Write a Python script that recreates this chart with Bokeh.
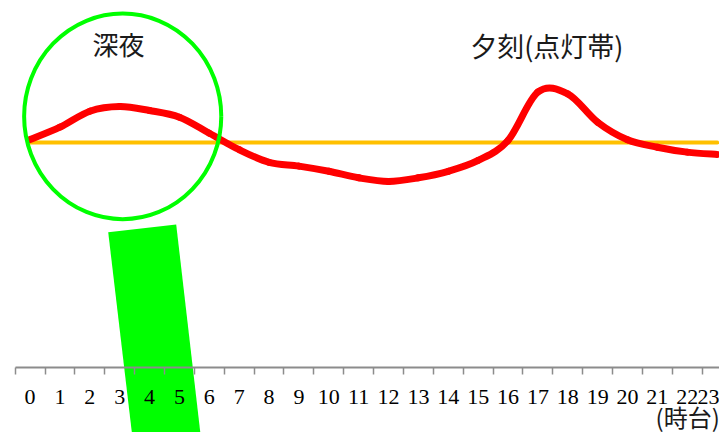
import numpy as np
from bokeh.plotting import figure
from bokeh.models import Range1d, LinearAxis, FixedTicker, ColumnDataSource
from bokeh.embed import file_html
from bokeh.resources import INLINE
from bokeh.core.properties import value

# ---- data -------------------------------------------------------------
hours = list(range(24))
hour_labels = [str(h) for h in hours]
ratio = [1.013, 1.068, 1.139, 1.160, 1.142, 1.112, 1.041, 0.968, 0.912, 0.895,
         0.872, 0.843, 0.827, 0.843, 0.872, 0.920, 1.009, 1.224, 1.216, 1.090,
         1.012, 0.979, 0.957, 0.947]
baseline = 1.0
note_night = "深夜"
note_evening = "夕刻(点灯帯)"
x_unit_label = "(時台)"

# ---- decoration (magnifying glass) -------------------------------------
lens_x, lens_y = 3.10, 1.116
lens_w, lens_h = 6.6, 0.914
handle_x = [2.615, 4.891, 5.76, 3.47]
handle_y = [0.601, 0.636, -0.36, -0.36]

# ---- smooth (Excel-like) curve: Catmull-Rom -> cubic Bezier segments ----
x = np.array(hours, dtype=float)
y = np.array(ratio, dtype=float)
xp = np.concatenate([[x[0]], x, [x[-1]]])
yp = np.concatenate([[y[0]], y, [y[-1]]])
n = len(x)
seg = ColumnDataSource(dict(
    x0=x[:-1], y0=y[:-1], x1=x[1:], y1=y[1:],
    cx0=x[:-1] + (x[1:] - xp[0:n - 1]) / 6.0,
    cy0=y[:-1] + (y[1:] - yp[0:n - 1]) / 6.0,
    cx1=x[1:] - (xp[3:n + 2] - x[:-1]) / 6.0,
    cy1=y[1:] - (yp[3:n + 2] - y[:-1]) / 6.0,
))

p = figure(width=719, height=432, output_backend="svg", toolbar_location=None,
           x_range=Range1d(-0.991, 23.08), y_range=Range1d(-0.289, 1.631),
           x_axis_type=None, y_axis_type=None,
           min_border_left=0, min_border_right=0, min_border_top=0, min_border_bottom=0)
p.outline_line_color = None
p.background_fill_color = "white"
p.border_fill_color = "white"

ax = LinearAxis(ticker=FixedTicker(ticks=hours, minor_ticks=[h - 0.5 for h in hours] + [23.5]),
                fixed_location=0, bounds=(-0.5, 23.5))
ax.major_label_overrides = {h: lbl for h, lbl in zip(hours, hour_labels)}
ax.axis_line_color = "#8c8c8c"
ax.axis_line_width = 2
ax.major_tick_out = 0
ax.major_tick_in = 0
ax.minor_tick_out = 7
ax.minor_tick_in = 0
ax.minor_tick_line_color = "#8c8c8c"
ax.minor_tick_line_width = 1.5
ax.major_label_text_font = "Liberation Serif"
ax.major_label_text_font_size = "22px"
ax.major_label_text_color = "black"
ax.major_label_standoff = 16
p.add_layout(ax, "below")

# handle of the magnifying glass (drawn under the axis)
p.patch(x=handle_x, y=handle_y, fill_color="#00FF00", fill_alpha=1.0, line_color=None)

# average line
p.segment(x0=[hours[0]], y0=[baseline], x1=[hours[-1]], y1=[baseline],
          line_color="#FFC000", line_width=4, line_cap="round")

# hourly curve
p.bezier(x0="x0", y0="y0", x1="x1", y1="y1", cx0="cx0", cy0="cy0", cx1="cx1", cy1="cy1",
         source=seg, line_color="#FF0000", line_width=7, line_cap="round")

# lens
p.ellipse(x=[lens_x], y=[lens_y], width=lens_w, height=lens_h,
          fill_color=None, line_color="#00FF00", line_width=4)

p.text(x=[2.96], y=[1.44], text=[note_night], text_font=value("Noto Sans CJK JP"),
       text_font_size="26px", text_align="center", text_baseline="middle", text_color="#1a1a1a")
p.text(x=[17.3], y=[1.431], text=[note_evening], text_font=value("Noto Sans CJK JP"),
       text_font_size="27px", text_align="center", text_baseline="middle", text_color="#1a1a1a")
p.text(x=[20.94], y=[-0.218], text=[x_unit_label], text_font=value("Noto Sans CJK JP"),
       text_font_size="24px", text_align="left", text_baseline="middle", text_color="#1a1a1a")

open("out.html", "w").write(file_html(p, INLINE))
